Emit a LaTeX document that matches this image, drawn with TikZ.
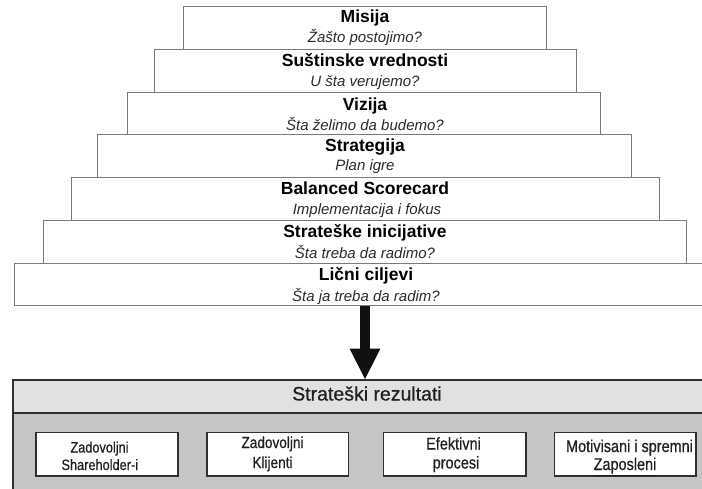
\documentclass[tikz,border=0pt]{standalone}
\usepackage{fontspec}
\setmainfont{Liberation Sans}
\newfontfamily\condfont[FakeStretch=0.85,FakeBold=0.6]{Liberation Sans}
\newfontfamily\hdrfont[FakeBold=0.5]{Liberation Sans}
\usetikzlibrary{arrows.meta}
\definecolor{stepline}{HTML}{7A7A7A}
\definecolor{hdrfill}{HTML}{E1E1DF}
\definecolor{bodyfill}{HTML}{C5C5C5}
\definecolor{darkline}{HTML}{303030}
\definecolor{subtxt}{HTML}{2B2B2B}
\definecolor{arrowcol}{HTML}{111111}
\begin{document}
\begin{tikzpicture}[x=1pt,y=-1pt,
  stepbox/.style={draw=stepline, line width=0.9pt, fill=white, inner sep=0pt, outer sep=0pt},
  ttl/.style={font=\fontsize{17.5}{20}\selectfont\bfseries, anchor=base, inner sep=0pt},
  sub/.style={font=\fontsize{15}{18}\selectfont\itshape, text=subtxt, anchor=base, inner sep=0pt},
  bodybox/.style={draw=darkline, line width=2pt, fill=bodyfill, inner sep=0pt, outer sep=0pt, anchor=north west},
  hdrbox/.style={draw=darkline, line width=2pt, fill=hdrfill, inner sep=0pt, outer sep=0pt, anchor=north west},
  hdrtxt/.style={font=\hdrfont\fontsize{19.5}{22}\selectfont, text=black!88, anchor=base, inner sep=0pt},
  ibox/.style={draw=darkline, line width=1.6pt, fill=white, inner sep=0pt, outer sep=0pt, anchor=north west, minimum height=43.7pt},
  btxt/.style={font=\condfont\fontsize{#1}{#1}\selectfont, text=black!88, anchor=base, inner sep=0pt},
  bigarrow/.style={draw=arrowcol, line width=9.5pt, -{Triangle[width=28.3pt,length=31.5pt]}, arrowcol}
]
\useasboundingbox (0,0) rectangle (702,488);
\clip (0,0) rectangle (702,488);

% steps
\node[stepbox, minimum width=363.4pt, minimum height=43.3pt] (s1) at (365,27.65) {};
\node[stepbox, minimum width=422.4pt, minimum height=42.7pt] (s2) at (365.5,70.65) {};
\node[stepbox, minimum width=473pt, minimum height=42.3pt] (s3) at (364.2,113.15) {};
\node[stepbox, minimum width=534.4pt, minimum height=42.7pt] (s4) at (364.5,155.65) {};
\node[stepbox, minimum width=588.3pt, minimum height=43pt] (s5) at (365.15,198.5) {};
\node[stepbox, minimum width=643pt, minimum height=43pt] (s6) at (365.2,241.5) {};
\node[stepbox, minimum width=702pt, minimum height=42.5pt] (s7) at (365,284.25) {};

% step texts
\node[ttl] (t1) at (365,22.7) {Misija};
\node[sub] (u1) at (365,42.7) {Žašto postojimo?};
\node[ttl] (t2) at (365,66.7) {Suštinske vrednosti};
\node[sub] (u2) at (365,86) {U šta verujemo?};
\node[ttl] (t3) at (365,110) {Vizija};
\node[sub] (u3) at (365,130) {Šta želimo da budemo?};
\node[ttl] (t4) at (365,151.5) {Strategija};
\node[sub] (u4) at (365,170) {Plan igre};
\node[ttl] (t5) at (365,194.3) {Balanced Scorecard};
\node[sub] (u5) at (367,214.3) {Implementacija i fokus};
\node[ttl] (t6) at (365,237.7) {Strateške inicijative};
\node[sub] (u6) at (365,258.3) {Šta treba da radimo?};
\node[ttl] (t7) at (366,280) {Lični ciljevi};
\node[sub] (u7) at (366,301.7) {Šta ja treba da radim?};

% results block
\node[bodybox, minimum width=703.4pt, minimum height=130pt] (res) at (13.3,380) {};
\node[hdrbox, minimum width=703.4pt, minimum height=32.5pt] (hdr) at (13.3,380) {};
\node[hdrtxt] (hl) at (367,400.5) {Strateški rezultati};

% arrow
\draw[bigarrow] (s7.south) -- (hdr.north);

% inner boxes
\node[ibox, minimum width=141.7pt] (b1) at (36,432.3) {};
\node[ibox, minimum width=141.6pt] (b2) at (206.7,432.3) {};
\node[ibox, minimum width=142.7pt] (b3) at (383.3,432.3) {};
\node[ibox, minimum width=141.7pt] (b4) at (554.3,432.3) {};

\node[btxt=15] (b1a) at (99.5,452.5) {Zadovoljni};
\node[btxt=15] (b1b) at (99.8,470) {Shareholder-i};
\node[btxt=16] (b2a) at (272.5,448) {Zadovoljni};
\node[btxt=16] (b2b) at (272.5,468) {Klijenti};
\node[btxt=17] (b3a) at (453.5,449.5) {Efektivni};
\node[btxt=17] (b3b) at (456,468.5) {procesi};
\node[btxt=17] (b4a) at (629.5,452) {Motivisani i spremni};
\node[btxt=17] (b4b) at (625,470) {\underline{Zaposleni}};
\end{tikzpicture}
\end{document}
